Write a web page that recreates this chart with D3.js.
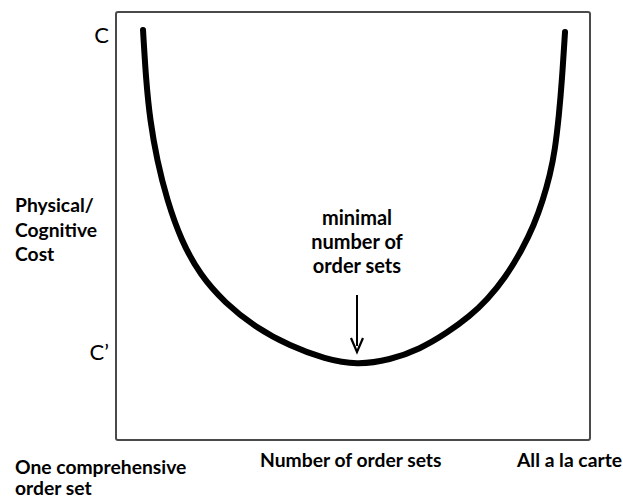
<!DOCTYPE html>
<html>
<head>
<meta charset="utf-8">
<script src="https://cdn.jsdelivr.net/npm/d3@7"></script>
<style>
  body { margin: 0; background: #fff; }
  svg text { font-family: Lato, "Open Sans", sans-serif; fill: #000; }
</style>
</head>
<body>
<svg></svg>
<script>
///////////////////////////////////////////
// Data (0..100 on both axes)
var curveX = [5.70, 6.33, 7.17, 8.65, 10.76, 13.71, 17.72, 23.00, 29.32, 36.71, 44.09, 50.84,
              57.81, 64.14, 69.83, 74.68, 78.27, 82.07, 85.65, 88.19, 90.08, 91.56, 92.62, 93.46, 94.09, 94.73];
var curveY = [95.79, 84.11, 74.77, 65.42, 56.07, 46.73, 38.55, 32.01, 26.40, 21.96, 18.93, 17.52,
              18.69, 21.26, 25.00, 28.97, 32.71, 37.85, 44.39, 50.23, 56.07, 61.92, 67.76, 75.93, 84.11, 95.33];
var yTickLabels = ["C", "C\u2019"];
var yTickValues = [94.5, 20.5];
var minimumX = 50.84;
var xLabels = [["One comprehensive", "order set"], ["Number of order sets"], ["All a la carte"]];
var yLabel = ["Physical/", "Cognitive", "Cost"];
var noteLines = ["minimal", "number of", "order sets"];

///////////////////////////////////////////
// Layout
var svgWidth = 623, svgHeight = 498;
var margin = {top: 12, right: 33, bottom: 58, left: 116},
    width = svgWidth - margin.left - margin.right,
    height = svgHeight - margin.top - margin.bottom;

var svg = d3.select("svg").attr("width", svgWidth).attr("height", svgHeight);
var g = svg.append("g").attr("transform", "translate(" + [margin.left, margin.top] + ")");

var x = d3.scaleLinear().domain([0, 100]).range([0, width]);
var y = d3.scaleLinear().domain([0, 100]).range([height, 0]);

// frame
g.append("rect")
  .attr("width", width).attr("height", height)
  .attr("rx", 2)
  .attr("fill", "none").attr("stroke", "#4a4a4a").attr("stroke-width", 2);

// cost curve (basis spline smooths the hand-read points)
var pts = curveX.map(function(d, i){ return [d, curveY[i]]; });
var line = d3.line()
  .x(function(d){ return x(d[0]); })
  .y(function(d){ return y(d[1]); })
  .curve(d3.curveBasis);
g.append("path")
  .datum(pts)
  .attr("d", line)
  .attr("fill", "none").attr("stroke", "#000")
  .attr("stroke-width", 6).attr("stroke-linecap", "round");

// y tick labels C, C'
g.selectAll(".ytick").data(yTickLabels).enter().append("text")
  .attr("class", "ytick")
  .attr("x", -7)
  .attr("y", function(d, i){ return y(yTickValues[i]); })
  .attr("dy", "0.36em")
  .attr("text-anchor", "end")
  .style("font-size", "22px")
  .text(function(d){ return d; });

// y axis label
svg.append("text")
  .attr("x", 15).attr("y", 212)
  .style("font-size", "19.3px").style("font-weight", 700)
  .selectAll("tspan").data(yLabel).enter().append("tspan")
  .attr("x", 15).attr("dy", function(d, i){ return i ? 24.5 : 0; })
  .text(function(d){ return d; });

// annotation + arrow
var ax = margin.left + x(minimumX);
svg.append("text")
  .attr("x", ax).attr("y", 225)
  .attr("text-anchor", "middle")
  .style("font-size", "20px").style("font-weight", 700)
  .selectAll("tspan").data(noteLines).enter().append("tspan")
  .attr("x", ax).attr("dy", function(d, i){ return i ? 24 : 0; })
  .text(function(d){ return d; });

svg.append("line")
  .attr("x1", ax).attr("x2", ax)
  .attr("y1", 295).attr("y2", 346)
  .attr("stroke", "#000").attr("stroke-width", 2);
svg.append("path")
  .attr("d", "M" + (ax - 6) + ",338 L" + ax + ",352 L" + (ax + 6) + ",338")
  .attr("fill", "none").attr("stroke", "#000").attr("stroke-width", 2.2);

// x labels
var xl = svg.append("g").style("font-size", "19.3px").style("font-weight", 700);
xl.append("text").attr("x", 15).attr("y", 474)
  .selectAll("tspan").data(xLabels[0]).enter().append("tspan")
  .attr("x", 15).attr("dy", function(d, i){ return i ? 21 : 0; })
  .text(function(d){ return d; });
xl.append("text").attr("x", 260).attr("y", 467).text(xLabels[1][0]);
xl.append("text").attr("x", 517).attr("y", 467).text(xLabels[2][0]);
</script>
</body>
</html>
